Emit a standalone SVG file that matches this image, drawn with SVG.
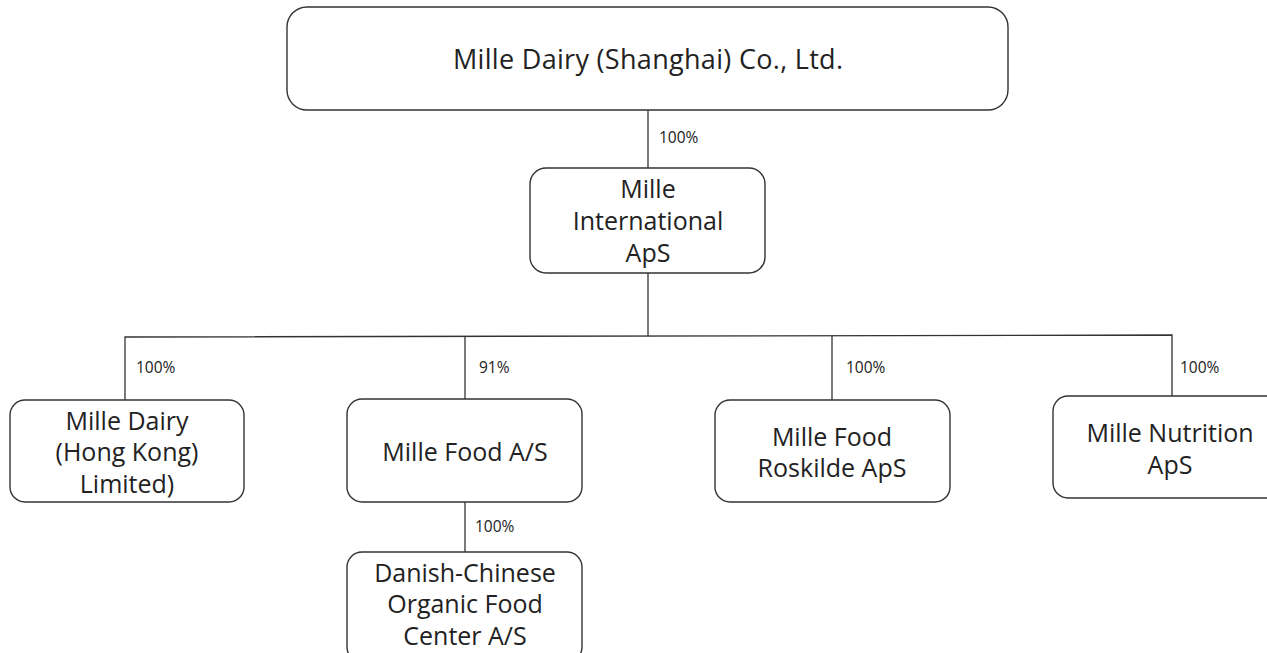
<svg xmlns="http://www.w3.org/2000/svg" width="1267" height="653" viewBox="0 0 1267 653">
<style>
.box{fill:#fff;stroke:#333;stroke-width:1.4}
.t{font-family:"Open Sans","Noto Sans",sans-serif;font-size:25px;fill:#222;text-anchor:middle}
.p{font-family:"Open Sans","Noto Sans",sans-serif;font-size:15.5px;fill:#222}
.ln{stroke:#333;stroke-width:1.3;fill:none}
</style>
<rect width="1267" height="653" fill="#fff"/>
<g id="connectors">
<line class="ln" x1="648" y1="110" x2="648" y2="168"/>
<line class="ln" x1="648" y1="273" x2="648" y2="336"/>
<polyline class="ln" points="125,400 125,337 1172,335 1172,396"/>
<line class="ln" x1="465" y1="336" x2="465" y2="399"/>
<line class="ln" x1="832" y1="336" x2="832" y2="400"/>
<line class="ln" x1="465" y1="502" x2="465" y2="552"/>
<text class="p" x="659" y="143">100%</text>
<text class="p" x="136" y="373">100%</text>
<text class="p" x="479" y="373">91%</text>
<text class="p" x="846" y="373">100%</text>
<text class="p" x="1180" y="373">100%</text>
<text class="p" x="475" y="532">100%</text>
</g>
<g id="n-shanghai">
<rect class="box" x="287" y="7" width="721" height="103" rx="20"/>
<text class="t" x="648" y="69" style="font-size:27px" textLength="390" lengthAdjust="spacing">Mille Dairy (Shanghai) Co., Ltd.</text>
</g>
<g id="n-international">
<rect class="box" x="530" y="168" width="235" height="105" rx="16"/>
<text class="t" x="648" y="198">Mille</text>
<text class="t" x="648" y="230">International</text>
<text class="t" x="648" y="262">ApS</text>
</g>
<g id="n-hongkong">
<rect class="box" x="10" y="400" width="234" height="102" rx="15"/>
<text class="t" x="127" y="430">Mille Dairy</text>
<text class="t" x="127" y="461">(Hong Kong)</text>
<text class="t" x="127" y="493">Limited)</text>
</g>
<g id="n-food">
<rect class="box" x="347" y="399" width="235" height="103" rx="15"/>
<text class="t" x="465" y="461">Mille Food A/S</text>
</g>
<g id="n-danish">
<rect class="box" x="347" y="552" width="235" height="110" rx="15"/>
<text class="t" x="465" y="582">Danish-Chinese</text>
<text class="t" x="465" y="613">Organic Food</text>
<text class="t" x="465" y="645">Center A/S</text>
</g>
<g id="n-roskilde">
<rect class="box" x="715" y="400" width="235" height="102" rx="15"/>
<text class="t" x="832" y="446">Mille Food</text>
<text class="t" x="832" y="477">Roskilde ApS</text>
</g>
<g id="n-nutrition">
<rect class="box" x="1053" y="396" width="235" height="102" rx="15"/>
<text class="t" x="1170" y="442">Mille Nutrition</text>
<text class="t" x="1170" y="474">ApS</text>
</g>
</svg>
